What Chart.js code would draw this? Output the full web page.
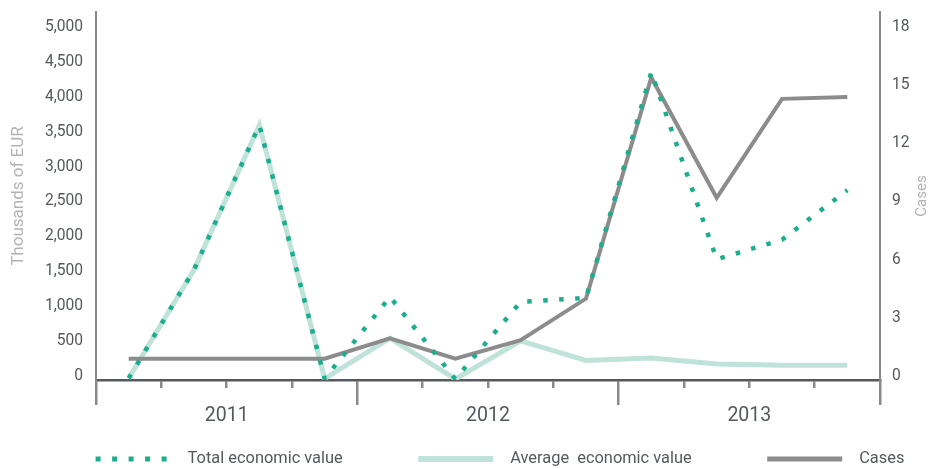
<!DOCTYPE html>
<html>
<head>
<meta charset="utf-8">
<script src="https://cdn.jsdelivr.net/npm/chart.js@4.4.1/dist/chart.umd.min.js"></script>
<style>
html,body{margin:0;padding:0;background:#fff;overflow:hidden}
#wrap{width:934px;height:469px;position:relative}
</style>
</head>
<body>
<div id="wrap"><canvas id="c" width="934" height="469"></canvas></div>
<script>
// ---- data ----
const quarters = ['Q1 2011','Q2 2011','Q3 2011','Q4 2011','Q1 2012','Q2 2012','Q3 2012','Q4 2012','Q1 2013','Q2 2013','Q3 2013','Q4 2013'];
const years = ['2011','2012','2013'];
const totalValue   = [25, 1580, 3650, 20, 1190, 15, 1120, 1175, 4410, 1730, 2010, 2720];
const averageValue = [25, 1580, 3650, 20, 600, 15, 560, 280, 315, 230, 210, 210];
const cases        = [1.1, 1.1, 1.1, 1.1, 2.15, 1.1, 2.05, 4.2, 15.6, 9.4, 14.5, 14.6];
const eurTicks  = [0,500,1000,1500,2000,2500,3000,3500,4000,4500,5000];
const caseTicks = [0,3,6,9,12,15,18];
const seriesNames = ['Total economic value','Cases','Average  economic value'];
const titleLeft = 'Thousands of EUR';
const titleRight = 'Cases';

// ---- fonts & styles ----
const FAMILY = 'Roboto, sans-serif';
const F_TICK = 15.6, F_YEAR = 19.5, F_LEG = 16.4, F_TL = 17, F_TR = 15;
const C_TOTAL='#1aae8d', C_AVG='#bfe3d8', C_CASES='#8c8c8c';
const C_TEXT='#55595d', C_TITLE='#b3b3b3', C_AXIS='#55595d', C_VAX='#8a8a8a';

const LF = F_LEG;           // legend font
const LP = 9.5;             // legend padding
const G = 66;               // leading gap inside legend symbol box
const SYM = 75;
const W = G + 92 - LF/2;    // legend symbol box width
const solidDash = [0, G, SYM, 2000];
const dotDash = [0, G, 5, 11.5, 5, 11.5, 5, 11.5, 5, 11.5, 5, 2000];

Chart.defaults.font.family = FAMILY;
Chart.defaults.color = C_TEXT;

function zeroPad(s){ s.paddingLeft=0; s.paddingRight=0; s.paddingTop=0; s.paddingBottom=0; }

const rightTitle = {
  id:'rightTitle',
  afterDraw(chart){
    const ctx=chart.ctx, a=chart.chartArea, s=chart.scales.y1;
    ctx.save();
    ctx.translate(s.right-12,(a.top+a.bottom)/2);
    ctx.rotate(-Math.PI/2);
    ctx.font = F_TR+'px '+FAMILY;
    ctx.fillStyle=C_TITLE; ctx.textAlign='center'; ctx.textBaseline='middle';
    ctx.fillText(titleRight,0,0);
    ctx.restore();
  }
};

const legendStyle = [
  {i:0, color:C_TOTAL, width:5, dash:dotDash},
  {i:2, color:C_AVG, width:6, dash:solidDash},
  {i:1, color:C_CASES, width:5, dash:solidDash}
];

new Chart(document.getElementById('c'), {
  type:'line',
  data:{
    labels: quarters,
    datasets:[
      {label:seriesNames[0], data:totalValue, borderColor:C_TOTAL, backgroundColor:C_TOTAL, borderWidth:4.5, borderDash:[4.5,11.5], borderCapStyle:'butt', pointRadius:0, tension:0, fill:false, xAxisID:'x', yAxisID:'y'},
      {label:seriesNames[1], data:cases, borderColor:C_CASES, backgroundColor:C_CASES, borderWidth:4, pointRadius:0, tension:0, fill:false, xAxisID:'x', yAxisID:'y1'},
      {label:seriesNames[2], data:averageValue, borderColor:C_AVG, backgroundColor:C_AVG, borderWidth:5, pointRadius:0, tension:0, fill:false, xAxisID:'x', yAxisID:'y'}
    ]
  },
  options:{
    responsive:false,
    animation:false,
    events:[],
    devicePixelRatio:1,
    layout:{ autoPadding:false, padding:{top:12, left:0, right:0, bottom:-LF/2} },
    plugins:{
      tooltip:{enabled:false},
      legend:{
        display:true, position:'bottom', align:'center', fullSize:true,
        labels:{
          usePointStyle:true, pointStyleWidth:W, padding:LP,
          font:{size:LF}, color:C_TEXT,
          generateLabels(chart){
            return legendStyle.map(st=>({
              text: chart.data.datasets[st.i].label,
              datasetIndex: st.i,
              fillStyle: st.color, strokeStyle: st.color,
              lineWidth: st.width, lineDash: st.dash, lineDashOffset:0, lineCap:'butt', lineJoin:'miter',
              pointStyle:'line', rotation:0, hidden:false, fontColor:C_TEXT
            }));
          }
        }
      }
    },
    scales:{
      x:{
        type:'category', position:'bottom', weight:1, offset:true,
        grid:{offset:true, drawOnChartArea:false, color:C_VAX, lineWidth:2.5, tickLength:8, drawTicks:true},
        border:{display:true, color:C_AXIS, width:2.5},
        ticks:{display:false},
        afterFit(s){ s.height=8; zeroPad(s); }
      },
      x2:{
        type:'category', labels:years, position:'bottom', weight:2, offset:true,
        grid:{offset:true, drawOnChartArea:false, color:C_VAX, lineWidth:2.5, tickLength:17, drawTicks:true},
        border:{display:false},
        ticks:{color:C_TEXT, font:{size:F_YEAR, lineHeight:0.86}, padding:3, maxRotation:0, autoSkip:false},
        afterFit(s){ s.height = 71 - LF/2 - LP; zeroPad(s); }
      },
      y:{
        type:'linear', position:'left', min:0, max:eurTicks[eurTicks.length-1]*368/349,
        afterBuildTicks(s){ s.ticks = eurTicks.map(v=>({value:v})); },
        grid:{display:false, drawTicks:false},
        border:{display:true, color:C_VAX, width:2},
        ticks:{color:C_TEXT, font:{size:F_TICK}, padding:13, labelOffset:-4, callback:v=>v.toLocaleString('en-US')},
        title:{display:true, text:titleLeft, color:C_TITLE, font:{size:F_TL, lineHeight:1.2}, padding:{top:18.4-F_TL*0.6, bottom:0}},
        afterFit(s){ s.width=96; zeroPad(s); }
      },
      y1:{
        type:'linear', position:'right', min:0, max:caseTicks[caseTicks.length-1]*368/349,
        afterBuildTicks(s){ s.ticks = caseTicks.map(v=>({value:v})); },
        grid:{display:false, drawTicks:false},
        border:{display:true, color:C_VAX, width:2},
        ticks:{color:C_TEXT, font:{size:F_TICK}, padding:12, labelOffset:-4},
        afterFit(s){ s.width=54; zeroPad(s); }
      }
    }
  },
  plugins:[rightTitle]
});
</script>
</body>
</html>
